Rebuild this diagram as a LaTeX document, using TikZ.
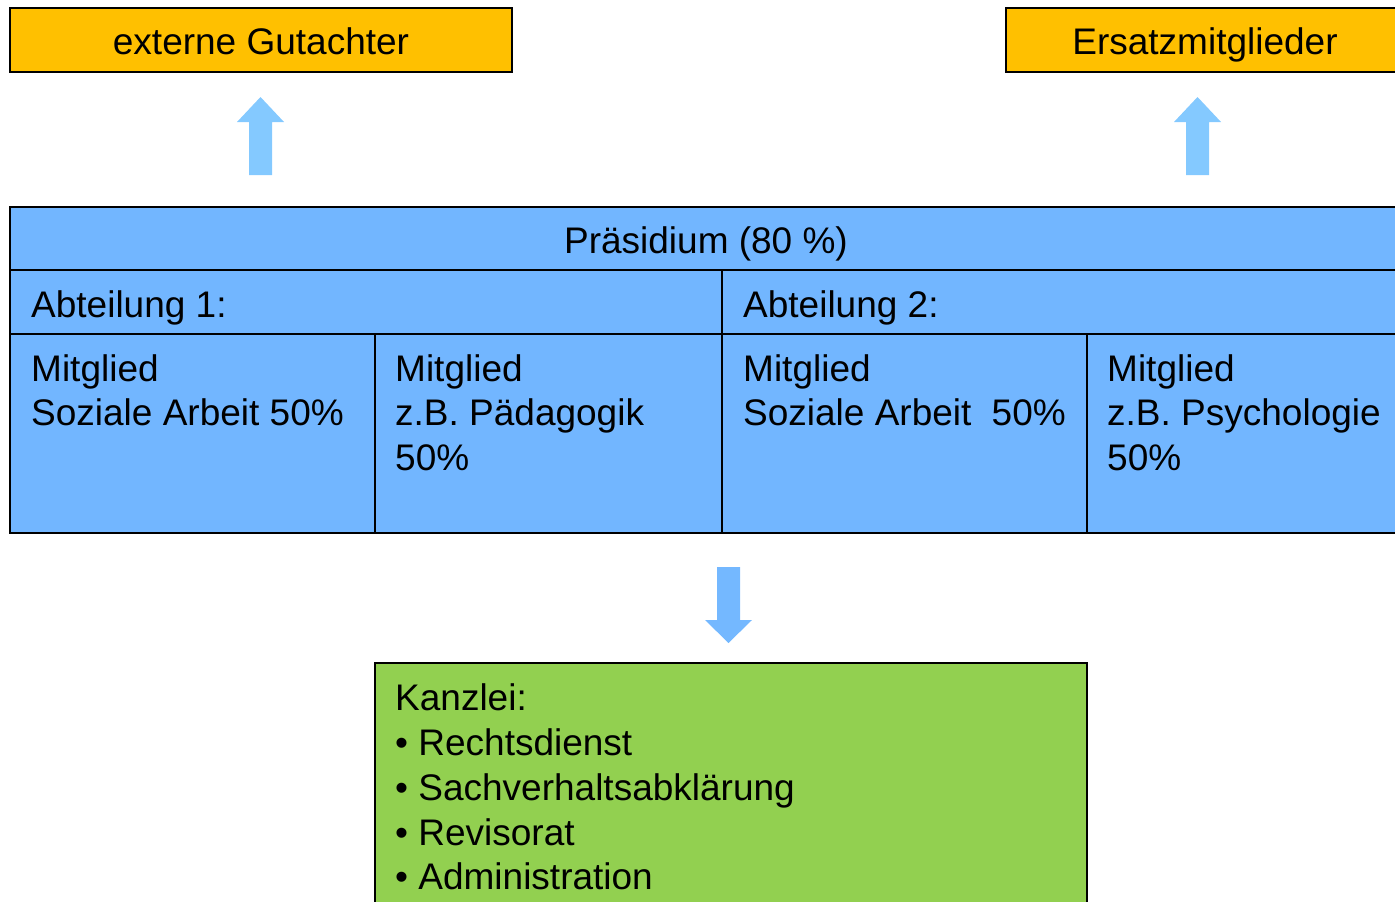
\documentclass[tikz,border=0pt]{standalone}
\usepackage{fontspec}
\setmainfont{Liberation Sans}
\definecolor{orangebox}{HTML}{FFC000}
\definecolor{bluecell}{HTML}{72B6FF}
\definecolor{arrowup}{HTML}{84C9FF}
\definecolor{arrowdown}{HTML}{74B8FF}
\definecolor{greenbox}{HTML}{92D050}
\tikzset{
  frame/.style={draw=black, line width=2pt},
  txt/.style={anchor=base west, inner sep=0pt, font=\fontsize{37}{44}\selectfont},
  ctxt/.style={anchor=base, inner sep=0pt, font=\fontsize{37}{44}\selectfont},
}
\begin{document}
\begin{tikzpicture}[x=1pt,y=-1pt]
\useasboundingbox (0,0) rectangle (1395,902);
\clip (0,0) rectangle (1395,902);
% top boxes
\path[frame, fill=orangebox] (10,8) rectangle (512,72);
\node[ctxt] (gut) at (261,54) {externe Gutachter};
\path[frame, fill=orangebox] (1006,8) rectangle (1405,72);
\node[ctxt] (ersatz) at (1205,54) {Ersatzmitglieder};
% up arrows
\fill[arrowup] (249,175) -- (249,122) -- (237,122) -- (260.5,97) -- (284,122) -- (272,122) -- (272,175) -- cycle;
\fill[arrowup] (1186,175) -- (1186,122) -- (1174,122) -- (1197.5,97) -- (1221,122) -- (1209,122) -- (1209,175) -- cycle;
% table
\path[frame, fill=bluecell] (10,207) rectangle (1405,533);
\draw[line width=2pt] (10,270) -- (1405,270);
\draw[line width=2pt] (10,334) -- (1405,334);
\draw[line width=2pt] (722,270) -- (722,533);
\draw[line width=2pt] (375,334) -- (375,533);
\draw[line width=2pt] (1087,334) -- (1087,533);
\node[ctxt] (praes) at (706,253) {Präsidium (80 \%)};
\node[txt] (abt1) at (31,317) {Abteilung 1:};
\node[txt] (abt2) at (743,317) {Abteilung 2:};
\node[txt] (m1a) at (31,381) {Mitglied};
\node[txt] (m1b) at (31,425) {Soziale Arbeit 50\%};
\node[txt] (m2a) at (395,381) {Mitglied};
\node[txt] (m2b) at (395,425) {z.B. Pädagogik};
\node[txt] (m2c) at (395,470) {50\%};
\node[txt] (m3a) at (743,381) {Mitglied};
\node[txt] (m3b) at (743,425) {Soziale Arbeit\hspace{10pt} 50\%};
\node[txt] (m4a) at (1107,381) {Mitglied};
\node[txt] (m4b) at (1107,425) {z.B. Psychologie};
\node[txt] (m4c) at (1107,470) {50\%};
% down arrow
\fill[arrowdown] (717,567) -- (740,567) -- (740,620) -- (752,620) -- (728.5,643) -- (705,620) -- (717,620) -- cycle;
% green box
\path[frame, fill=greenbox] (375,663) rectangle (1087,920);
\node[txt] (kanz) at (395,710) {Kanzlei:};
\node[txt] (k1) at (395,755) {•~Rechtsdienst};
\node[txt] (k2) at (395,800) {•~Sachverhaltsabklärung};
\node[txt] (k3) at (395,845) {•~Revisorat};
\node[txt] (k4) at (395,889) {•~Administration};
\end{tikzpicture}
\end{document}
